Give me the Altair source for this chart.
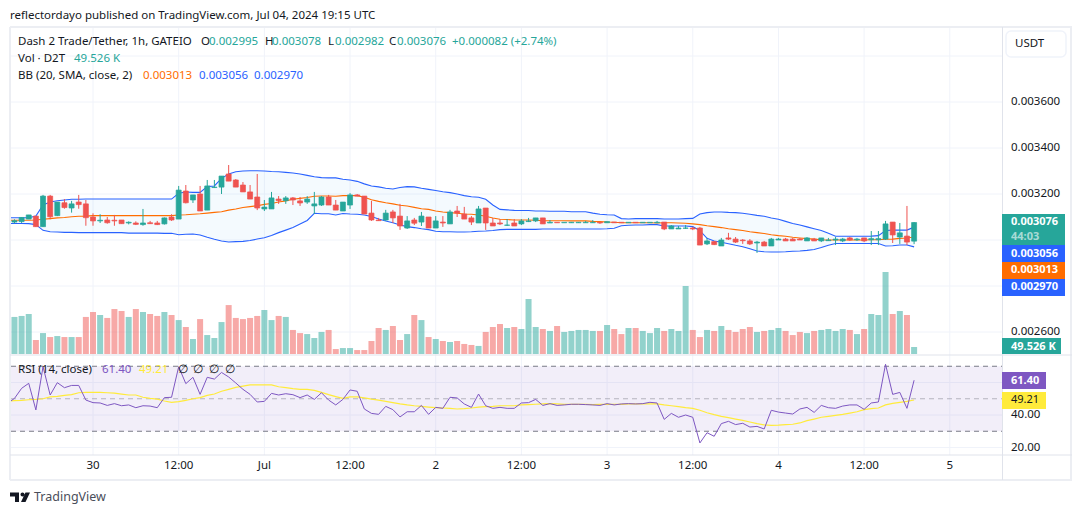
import altair as alt
import pandas as pd

# hour index relative to 2024-06-30 00:00 UTC
hours = list(range(-11, 116))

# prices in millionths of USDT, one per hourly candle
open_ = [3078,3080,3091,3104,3058,3191,3106,3162,3139,3165,3157,3100,3083,3087,3086,3087,3074,3074,3067,3075,3074,3070,3100,3091,3213,3174,3200,3130,3228,3230,3287,3261,3239,3209,3187,3135,3135,3178,3171,3183,3170,3165,3148,3152,3187,3152,
 3126,3152,3196,3191,3117,3087,3087,3122,3104,3052,3087,3078,3100,3052,3078,3070,3126,3113,3096,3074,3139,3074,3074,3064,3074,3070,3080,3083,3096,3074,3077,3075,3075,3075,3075,3075,3077,3075,3078,3077,3075,3077,3075,3075,3075,
 3078,3048,3048,3051,3052,3052,2983,2993,2974,3009,3004,3000,2996,2987,2991,2974,3000,3004,3004,3004,2996,3004,2996,2997,3000,2996,3009,3001,3009,3001,3001,3004,3078,3013,3017,2995]
high = [3090,3100,3109,3104,3196,3196,3165,3178,3170,3196,3174,3116,3112,3100,3109,3087,3081,3081,3135,3083,3083,3098,3112,3235,3239,3196,3235,3261,3261,3278,3326,3265,3252,3239,3287,3174,3209,3191,3191,3187,3187,3191,3209,3191,3196,3174,
 3165,3204,3200,3191,3170,3096,3131,3131,3157,3104,3096,3122,3100,3104,3104,3131,3148,3144,3104,3148,3139,3096,3091,3091,3091,3091,3096,3096,3096,3087,3077,3077,3078,3078,3083,3087,3077,3080,3078,3077,3077,3077,3077,3077,3083,
 3078,3065,3061,3065,3057,3057,3009,2996,3009,3031,3013,3004,3004,2996,2996,3009,3009,3009,3009,3009,3013,3009,3009,3009,3013,3009,3013,3009,3009,3039,3039,3083,3078,3074,3148,3078]
low = [3072,3074,3091,3057,3057,3090,3104,3136,3119,3136,3062,3062,3074,3071,3062,3071,3068,3065,3062,3070,3065,3067,3083,3091,3159,3161,3126,3130,3226,3200,3256,3230,3209,3178,3130,3126,3135,3157,3157,3152,3148,3157,3113,3148,3152,3130,
 3126,3135,3190,3113,3083,3083,3083,3074,3044,3048,3065,3061,3052,3052,3057,3070,3100,3091,3065,3074,3044,3061,3065,3061,3061,3065,3078,3078,3070,3074,3075,3075,3074,3074,3074,3074,3070,3075,3075,3075,3075,3075,3075,3075,3073,
 3043,3048,3048,3048,3043,2978,2978,2978,2974,3000,2987,2983,2978,2944,2974,2974,3000,2996,2996,3000,2996,2996,2991,2996,2978,2991,2996,2996,2991,2978,2978,3000,2987,2983,2978,2982]
close = [3084,3098,3109,3058,3191,3101,3165,3141,3157,3154,3097,3083,3086,3075,3083,3071,3077,3068,3074,3071,3067,3096,3087,3217,3162,3196,3126,3235,3230,3278,3256,3230,3209,3178,3139,3143,3183,3171,3183,3174,3161,3178,3157,3187,3152,3130,
 3165,3196,3191,3113,3087,3084,3117,3096,3061,3083,3073,3104,3052,3083,3074,3122,3117,3091,3078,3135,3074,3061,3070,3065,3061,3083,3083,3096,3070,3077,3075,3077,3077,3077,3077,3077,3074,3080,3075,3075,3077,3075,3077,3077,3077,
 3048,3061,3052,3052,3048,2978,2996,2980,3000,3004,2991,2997,2983,2991,2974,3004,3004,2996,2996,3000,3009,2996,3009,3000,3004,3004,3000,3004,2996,3006,3006,3070,3022,3031,2991,3076]

# Bollinger bands, same unit
upper = [3097,3097,3097,3104,3152,3165,3171,3174,3177,3177,3178,3178,3178,3178,3178,3178,3178,3178,3178,3178,3178,3178,3178,3203,3209,3207,3207,3232,3235,3268,3287,3297,3300,3301,3301,3300,3298,3297,3294,3291,3287,3281,3275,3271,3270,3270,
 3264,3261,3255,3244,3235,3231,3225,3222,3228,3232,3231,3225,3220,3215,3210,3206,3200,3193,3188,3186,3177,3152,3133,3131,3129,3128,3128,3126,3126,3125,3125,3125,3123,3123,3123,3117,3112,3110,3109,3093,3091,3093,3093,3093,3093,
 3091,3091,3091,3093,3094,3113,3119,3122,3122,3120,3119,3116,3112,3107,3103,3096,3090,3081,3072,3065,3057,3049,3041,3029,3016,3016,3016,3016,3016,3017,3019,3041,3043,3043,3043,3056]
middle = [3086,3086,3086,3087,3090,3093,3096,3098,3101,3103,3104,3106,3106,3106,3106,3106,3106,3106,3106,3106,3106,3106,3106,3109,3110,3112,3114,3117,3120,3123,3130,3135,3141,3145,3149,3155,3159,3165,3170,3177,3181,3185,3190,3191,3191,3190,
 3193,3193,3193,3186,3175,3168,3162,3157,3151,3148,3142,3136,3133,3126,3122,3119,3116,3113,3112,3109,3103,3096,3090,3089,3087,3087,3087,3086,3084,3084,3084,3084,3083,3083,3083,3081,3080,3078,3077,3075,3075,3075,3075,3075,3074,
 3075,3075,3074,3073,3070,3067,3062,3058,3054,3049,3045,3041,3036,3032,3028,3023,3019,3016,3012,3009,3006,3004,3001,3000,3000,3000,3000,3000,3000,3001,3001,3003,3004,3007,3009,3013]
lower = [3072,3072,3071,3067,3042,3036,3035,3033,3033,3032,3032,3032,3032,3032,3032,3032,3030,3030,3030,3030,3030,3029,3029,3023,3025,3026,3022,3012,3003,2996,2991,2993,2994,2998,3004,3010,3020,3032,3043,3054,3070,3085,3116,3114,3114,3109,
 3115,3113,3112,3109,3102,3091,3083,3075,3065,3058,3054,3049,3045,3038,3036,3036,3035,3035,3036,3038,3039,3041,3045,3046,3046,3046,3046,3046,3048,3048,3048,3048,3048,3048,3048,3048,3048,3049,3051,3062,3064,3065,3065,3067,3067,
 3061,3061,3061,3061,3058,3041,3007,2996,2990,2984,2977,2971,2962,2952,2949,2948,2948,2949,2951,2952,2955,2959,2967,2977,2985,2985,2985,2985,2985,2985,2985,2974,2975,2978,2978,2970]

# volume in thousands of D2T
volume = [262,269,283,99,148,120,127,120,120,120,262,297,276,255,318,304,262,318,297,283,269,297,276,240,191,106,247,134,113,226,346,255,247,255,269,311,240,269,262,170,148,141,113,156,170,35,
 42,42,28,28,92,184,170,198,99,141,276,240,120,106,92,85,92,71,64,57,156,191,212,184,191,177,389,191,177,163,198,156,163,170,170,163,163,205,177,141,184,184,163,148,184,
 163,177,163,481,170,120,170,163,198,170,156,177,191,156,163,170,184,163,134,156,148,163,170,177,163,177,170,141,177,283,276,580,283,304,276,49.526]

rsi = [50.2,56.4,59.5,43.1,69.7,52.3,59.9,56.8,58.2,58.2,49.2,47.6,47.4,45.9,47.0,45.7,46.2,44.5,45.7,45.5,44.5,50.7,50.9,69.7,59.3,63.2,52.7,63.2,62.1,66.2,63.4,59.7,55.8,52.7,48.0,48.4,53.3,52.3,53.1,52.5,50.7,52.3,49.6,53.7,49.2,46.2,
 49.6,55.4,54.6,43.7,41.0,40.4,45.3,43.3,38.8,42.0,42.0,45.9,40.4,44.7,44.1,50.9,50.5,46.8,44.7,52.9,45.7,44.1,44.7,44.1,44.1,47.4,47.6,49.6,45.9,47.0,45.9,46.2,46.6,46.6,46.4,46.2,45.9,47.0,46.2,46.8,47.0,46.8,47.0,47.8,47.4,
 37.3,41.0,38.6,40.0,38.6,22.8,29.1,26.9,34.7,36.1,34.1,34.9,32.6,33.0,31.4,42.9,41.8,41.2,40.6,43.7,44.7,41.6,45.9,44.5,44.1,45.5,46.2,46.2,43.5,47.4,48.0,71.2,52.7,53.9,44.1,61.4]
rsi_ma = [48.8,49.0,49.4,49.6,50.0,51.1,51.5,52.1,52.5,53.7,53.9,53.9,53.9,53.7,53.5,52.9,52.3,52.3,50.9,50.2,49.8,48.6,47.8,48.2,49.0,50.0,50.7,52.1,52.9,54.6,55.8,57.0,57.8,58.5,58.5,58.5,58.5,57.4,56.8,56.2,55.8,55.8,55.2,53.9,52.5,51.3,
 50.2,51.1,51.1,50.5,49.8,49.2,48.4,47.6,46.8,46.2,45.7,45.3,44.9,44.5,44.3,44.1,43.7,43.9,44.3,44.9,45.1,45.3,45.7,45.7,45.7,46.2,46.4,46.6,46.8,47.0,46.8,46.6,46.6,46.6,46.6,46.4,46.6,46.6,46.6,46.6,46.8,46.8,46.8,46.8,46.8,
 46.2,45.7,45.1,44.5,44.1,42.9,41.4,40.2,39.2,38.4,37.5,36.7,35.7,34.7,33.9,33.6,33.8,34.1,34.3,35.1,36.5,37.5,38.6,39.2,39.8,40.4,41.2,42.0,43.3,43.9,44.3,46.2,47.2,47.8,48.4,49.21]

# indicator values where the lines enter at the pane's left edge, before the first full candle
lead_hour = [-11.5]
lead_upper = [3097]
lead_middle = [3086]
lead_lower = [3072]
lead_rsi = [48.7]
lead_rsi_ma = [48.7]

time_ticks = [0, 12, 24, 36, 48, 60, 72, 84, 96, 108, 120]
time_labels = ["30", "12:00", "Jul", "12:00", "2", "12:00", "3", "12:00", "4", "12:00", "5"]
price_grid = [0.0038, 0.0036, 0.0034, 0.0032, 0.0030, 0.0028, 0.0026]
price_ticks = [0.0036, 0.0034, 0.0032, 0.0026]
rsi_grid = [60, 40, 20]
rsi_ticks = [40, 20]

UP, DOWN = "#26a69a", "#ef5350"
BLUE, ORANGE = "#2962ff", "#ff6d00"
PURPLE, YELLOW = "#7e57c2", "#ffeb3b"
INK, GRID, EDGE, RIM = "#131722", "#f0f3fa", "#e0e3eb", "#eceef3"
FONT = "Noto Sans"
SZ = 11.5

df = pd.DataFrame({"h": hours, "open": open_, "high": high, "low": low, "close": close,
                   "upper": upper, "middle": middle, "lower": lower,
                   "volume": volume, "rsi": rsi, "rsi_ma": rsi_ma})
lead = pd.DataFrame({"h": lead_hour, "upper": lead_upper, "middle": lead_middle, "lower": lead_lower,
                     "rsi": lead_rsi, "rsi_ma": lead_rsi_ma})
lines = pd.concat([lead, df[["h", "upper", "middle", "lower", "rsi", "rsi_ma"]]], ignore_index=True)
for c in ["open", "high", "low", "close", "upper", "middle", "lower"]:
    df[c] = df[c] * 1e-6
for c in ["upper", "middle", "lower"]:
    lines[c] = lines[c] * 1e-6
df["dir"] = ["up" if c >= o else "down" for c, o in zip(close, open_)]

X = alt.Scale(domain=[0, 120], range=[85, 941.8], nice=False, zero=False, padding=0)
PY = alt.Scale(domain=[0.0026, 0.0036], range=[324, 94], nice=False, zero=False)
VY = alt.Scale(domain=[0, 100], range=[346, 331.86], nice=False, zero=False)
RY = alt.Scale(domain=[20, 70], range=[439.5, 358.25], nice=False, zero=False)
DIRC = alt.Scale(domain=["up", "down"], range=[UP, DOWN])

x_h = alt.X("h:Q", scale=X, axis=None)
base = alt.Chart(df)
line_base = alt.Chart(lines)


def py(f):
    return alt.Y(f, type="quantitative", scale=PY, axis=None)


def frame(x0, x1, y0, y1, color=EDGE, width=1):
    return alt.Chart(alt.Data(values=[{}])).mark_rule(color=color, strokeWidth=width).encode(
        x=alt.value(x0 - 8), x2=alt.value(x1 - 8), y=alt.value(y0 - 8), y2=alt.value(y1 - 8))


def box(x0, x1, y0, y1, color, radius=0, stroke=None):
    kw = {"stroke": stroke, "strokeWidth": 1.5} if stroke else {}
    return alt.Chart(alt.Data(values=[{}])).mark_rect(color=color, cornerRadius=radius, **kw).encode(
        x=alt.value(x0 - 8), x2=alt.value(x1 - 8), y=alt.value(y0 - 8), y2=alt.value(y1 - 8))


def txt(s, x, y, color=INK, size=SZ, weight="normal", align="left", opacity=1, font=FONT):
    return alt.Chart(alt.Data(values=[{"t": s}])).mark_text(
        color=color, fontSize=size, fontWeight=weight, align=align, baseline="middle",
        font=font, opacity=opacity).encode(
        x=alt.value(x - 8), y=alt.value(y - 8), text="t:N")


layers = []

# grid
tick_df = pd.DataFrame({"h": time_ticks, "label": time_labels})
layers.append(alt.Chart(tick_df).mark_rule(color=GRID, strokeWidth=1).encode(
    x=x_h, y=alt.value(19), y2=alt.value(447)))
layers.append(alt.Chart(pd.DataFrame({"p": price_grid})).mark_rule(color=GRID, strokeWidth=1).encode(
    y=py("p"), x=alt.value(3), x2=alt.value(994)))
layers.append(alt.Chart(pd.DataFrame({"r": rsi_grid})).mark_rule(color=GRID, strokeWidth=1).encode(
    y=alt.Y("r:Q", scale=RY, axis=None), x=alt.value(3), x2=alt.value(994)))

# RSI background band and levels
layers.append(alt.Chart(pd.DataFrame({"a": [30], "b": [70]})).mark_rect(color=PURPLE, opacity=0.1).encode(
    y=alt.Y("a:Q", scale=RY, axis=None), y2="b:Q", x=alt.value(3), x2=alt.value(994)))
layers.append(alt.Chart(pd.DataFrame({"r": [70, 30]})).mark_rule(color="#787b86", strokeWidth=1, strokeDash=[5, 4]).encode(
    y=alt.Y("r:Q", scale=RY, axis=None), x=alt.value(3), x2=alt.value(994)))
layers.append(alt.Chart(pd.DataFrame({"r": [50]})).mark_rule(color="#787b86", strokeWidth=1, strokeDash=[5, 4], opacity=0.5).encode(
    y=alt.Y("r:Q", scale=RY, axis=None), x=alt.value(3), x2=alt.value(994)))

# volume
layers.append(base.mark_bar(size=6, opacity=0.5, orient="vertical").encode(
    x=x_h, y=alt.Y("volume:Q", scale=VY, axis=None), y2=alt.datum(0),
    color=alt.Color("dir:N", scale=DIRC, legend=None)))

# Bollinger bands
layers.append(line_base.mark_area(color="#2196f3", opacity=0.05).encode(x=x_h, y=py("upper"), y2="lower:Q"))
layers.append(line_base.mark_line(color=BLUE, strokeWidth=1.1).encode(x=x_h, y=py("upper")))
layers.append(line_base.mark_line(color=BLUE, strokeWidth=1.1).encode(x=x_h, y=py("lower")))
layers.append(line_base.mark_line(color=ORANGE, strokeWidth=1.1).encode(x=x_h, y=py("middle")))

# candles
layers.append(base.mark_rule(strokeWidth=1).encode(
    x=x_h, y=py("high"), y2="low:Q", color=alt.Color("dir:N", scale=DIRC, legend=None)))
layers.append(base.mark_bar(size=5, orient="vertical", strokeWidth=0.7).encode(
    x=x_h, y=py("open"), y2="close:Q",
    color=alt.Color("dir:N", scale=DIRC, legend=None),
    stroke=alt.Stroke("dir:N", scale=DIRC, legend=None)))

# RSI
layers.append(line_base.mark_line(color=YELLOW, strokeWidth=1.2).encode(x=x_h, y=alt.Y("rsi_ma:Q", scale=RY, axis=None)))
layers.append(line_base.mark_line(color=PURPLE, strokeWidth=1).encode(x=x_h, y=alt.Y("rsi:Q", scale=RY, axis=None)))

# frame
layers += [
    frame(10, 1072, 27, 27, color=RIM, width=2),
    frame(10, 1072, 480, 480, color=RIM, width=2),
    frame(10, 10, 27, 480, color=RIM, width=2),
    frame(1071, 1071, 27, 480, color=RIM, width=2),
    frame(1002.5, 1002.5, 27, 480),
    frame(10, 1072, 355, 355),
    frame(10, 1072, 455, 455),
]

# axis labels drawn through the scales
layers.append(alt.Chart(tick_df).mark_text(color=INK, fontSize=SZ, font=FONT, baseline="middle").encode(
    x=x_h, y=alt.value(458), text="label:N"))
layers.append(alt.Chart(pd.DataFrame({"p": price_ticks, "t": [f"{v:.6f}" for v in price_ticks]})).mark_text(
    color=INK, fontSize=SZ, font=FONT, baseline="middle", align="left").encode(
    y=py("p"), x=alt.value(1003), text="t:N"))
layers.append(alt.Chart(pd.DataFrame({"r": rsi_ticks, "t": [f"{v:.2f}" for v in rsi_ticks]})).mark_text(
    color=INK, fontSize=SZ, font=FONT, baseline="middle", align="left").encode(
    y=alt.Y("r:Q", scale=RY, axis=None), x=alt.value(1003), text="t:N"))

# USDT button and last value tags
TAG = 11
layers += [
    box(1006, 1066, 31, 57, "#ffffff", radius=5, stroke=GRID),
    txt("USDT", 1015, 44),
    box(1002, 1065, 214, 245, UP),
    txt("0.003076", 1011, 222, color="#ffffff", weight="bold", size=TAG),
    txt("44:03", 1011, 237, color="#ffffff", opacity=0.6, weight="bold", size=TAG),
    box(1002, 1065, 245, 262, BLUE),
    txt("0.003056", 1011, 254, color="#ffffff", weight="bold", size=TAG),
    box(1002, 1065, 262, 279, ORANGE),
    txt("0.003013", 1011, 270, color="#ffffff", weight="bold", size=TAG),
    box(1002, 1065, 279, 296, BLUE),
    txt("0.002970", 1011, 287, color="#ffffff", weight="bold", size=TAG),
    box(1002, 1061, 338, 354, UP),
    txt("49.526 K", 1011, 347, color="#ffffff", weight="bold", size=TAG),
    box(1002, 1046, 372, 389, PURPLE),
    txt("61.40", 1011, 381, color="#ffffff", weight="bold", size=TAG),
    box(1002, 1046, 392, 409, YELLOW),
    txt("49.21", 1011, 400, color=INK, size=TAG),
]

# legend rows and titles
layers += [
    txt("reflectordayo published on TradingView.com, Jul 04, 2024 19:15 UTC", 10, 15.5),
    txt("Dash 2 Trade/Tether, 1h, GATEIO", 18, 42),
    txt("O", 201, 42), txt("0.002995", 209, 42, color=UP),
    txt("H", 265, 42), txt("0.003078", 272, 42, color=UP),
    txt("L", 328, 42), txt("0.002982", 335, 42, color=UP),
    txt("C", 389, 42), txt("0.003076", 397, 42, color=UP),
    txt("+0.000082 (+2.74%)", 452, 42, color=UP),
    txt("Vol · D2T", 18, 59), txt("49.526 K", 74, 59, color=UP),
    txt("BB (20, SMA, close, 2)", 18, 76),
    txt("0.003013", 143, 76, color=ORANGE),
    txt("0.003056", 199, 76, color=BLUE),
    txt("0.002970", 254, 76, color=BLUE),
    txt("RSI (14, close)", 18, 370),
    txt("61.40", 102, 370, color=PURPLE),
    txt("49.21", 139, 370, color=YELLOW),
    txt("∅", 178, 370), txt("∅", 193, 370), txt("∅", 209, 370), txt("∅", 225, 370),
    txt("TradingView", 34, 497, size=12.5, color="#4a4e5a"),
]

# TradingView mark
LOGO = ("M-1,-.45 L-.1,-.45 L-.1,.5 L-.5,.5 L-.5,-.05 L-1,-.05 Z "
        "M.55,-.45 L1,-.45 L.55,.5 L.1,.5 Z "
        "M.05,-.25 A.2,.2 0 1,0 .45,-.25 A.2,.2 0 1,0 .05,-.25 Z")
layers.append(alt.Chart(alt.Data(values=[{}])).mark_point(
    shape=LOGO, size=400, filled=True, color=INK, opacity=1).encode(
    x=alt.value(12), y=alt.value(489)))

chart = alt.layer(*layers).resolve_scale(y="independent").properties(
    width=1064, height=499, padding=0, autosize=alt.AutoSizeParams(type="none")
).configure_view(stroke=None)

chart.save("out.html", embed_options={"renderer": "svg", "actions": False})
